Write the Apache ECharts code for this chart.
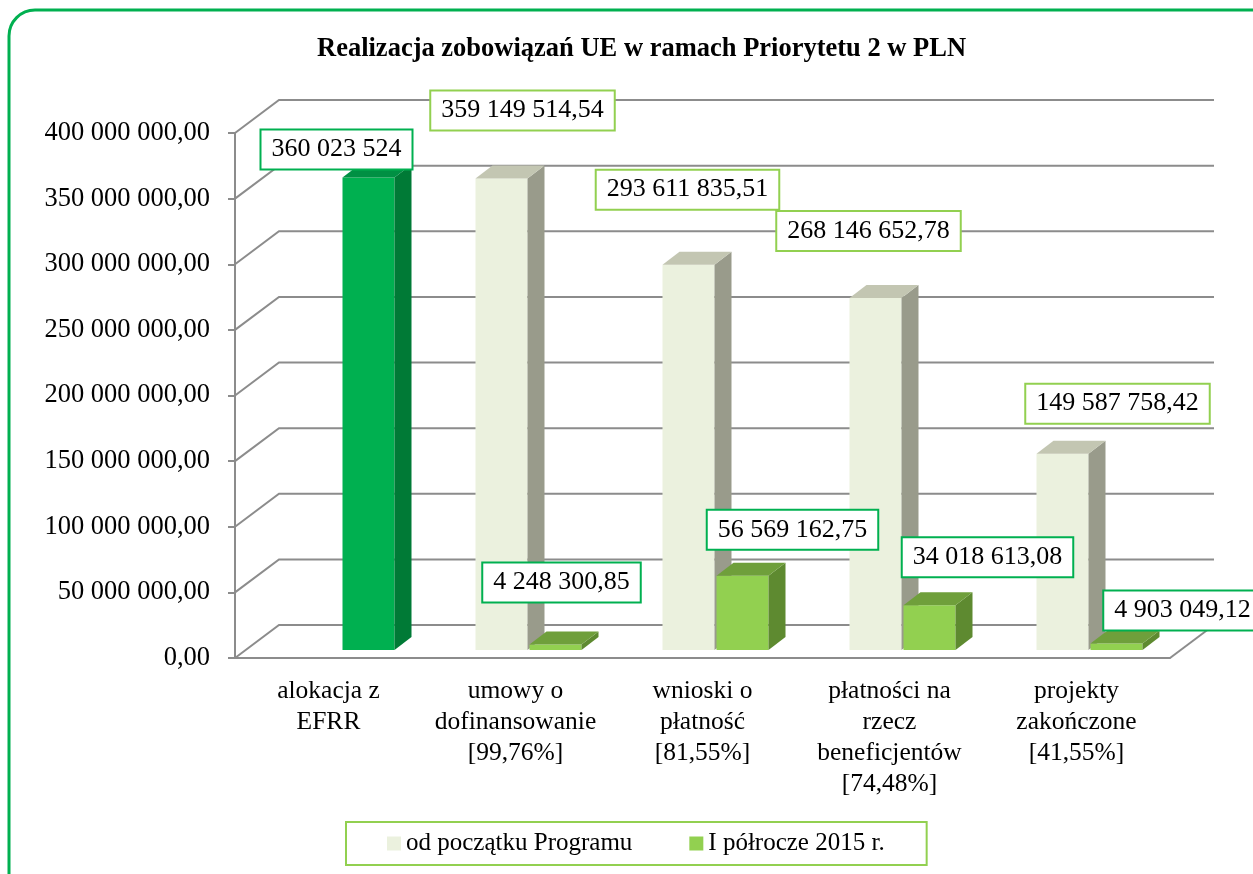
<!DOCTYPE html>
<html>
<head>
<meta charset="utf-8">
<script src="https://cdn.jsdelivr.net/npm/echarts@6/dist/echarts.min.js"></script>
<style>
  html, body { margin: 0; padding: 0; background: #fff; }
  #chart { width: 1253px; height: 874px; }
</style>
</head>
<body>
<div id="chart"></div>
<script>
const categories = [
  'alokacja z\nEFRR',
  'umowy o\ndofinansowanie\n[99,76%]',
  'wnioski o\npłatność\n[81,55%]',
  'płatności na\nrzecz\nbeneficjentów\n[74,48%]',
  'projekty\nzakończone\n[41,55%]'
]
const sinceStart = [null, 359149514.54, 293611835.51, 268146652.78, 149587758.42]
const firstHalf2015 = [360023524, 4248300.85, 56569162.75, 34018613.08, 4903049.12]
const yTicks = [0, 50000000, 100000000, 150000000, 200000000, 250000000, 300000000, 350000000, 400000000]

// label box offsets from the top of each bar (layout only)
const labelOffsets = [
  [null, [21, -68], [-1, -75], [-7, -67], [55, -50]],
  [[-32, -28], [6, -62], [50, -46], [58, -48], [66, -33]]
]

const FONT = "'Liberation Serif', 'Times New Roman', serif"
const WALL_DX = 44, WALL_DY = -33   // depth of back wall
const BAR_X = 10, BAR_Y = -8        // bar front plane inside floor
const BAR_DX = 17, BAR_DY = -13     // bar depth
const BAR_W = 52

const palettes = {
  light: { front: '#ebf1de', side: '#999b8b', top: '#c3c6b2', border: '#92d050' },
  green: { front: '#92d050', side: '#5e8a30', top: '#6f9f3b', border: '#00b050' },
  dark: { front: '#00b050', side: '#007a36', top: '#009043', border: '#00b050' }
}

function fmt(v, dec) {
  const parts = v.toFixed(dec).split('.')
  return parts[0].replace(/\B(?=(\d{3})+(?!\d))/g, ' ') + (parts[1] ? ',' + parts[1] : '')
}

function renderWall(params, api) {
  const v = api.value(1)
  const y = api.coord([0, v])[1]
  const cs = params.coordSys
  const x0 = cs.x, x1 = cs.x + cs.width
  const style = { stroke: '#8c8c8c', lineWidth: 2, fill: null }
  const children = [{
    type: 'polyline',
    shape: { points: [[x0, y], [x0 + WALL_DX, y + WALL_DY], [x1 + WALL_DX, y + WALL_DY]] },
    style: style
  }]
  if (v === 0) {
    children.push({ type: 'line', shape: { x1: x1, y1: y, x2: x1 + WALL_DX, y2: y + WALL_DY }, style: style })
  }
  return { type: 'group', children: children }
}

function renderBar(params, api) {
  const cat = api.value(0), v = api.value(1)
  if (isNaN(v)) return
  const si = params.seriesIndex - 1
  const pal = si === 0 ? palettes.light : (cat === 0 ? palettes.dark : palettes.green)
  const base = api.coord([cat, 0])
  const top = api.coord([cat, v])
  const x0 = base[0] + BAR_X + (si === 0 ? -50 : 4)
  const x1 = x0 + BAR_W
  const yb = base[1] + BAR_Y, yt = top[1] + BAR_Y
  const off = labelOffsets[si][cat]
  return {
    type: 'group',
    children: [
      { type: 'rect', shape: { x: x0, y: yt, width: BAR_W, height: yb - yt }, style: { fill: pal.front } },
      { type: 'polygon', shape: { points: [[x1, yb], [x1 + BAR_DX, yb + BAR_DY], [x1 + BAR_DX, yt + BAR_DY], [x1, yt]] }, style: { fill: pal.side } },
      { type: 'polygon', shape: { points: [[x0, yt], [x1, yt], [x1 + BAR_DX, yt + BAR_DY], [x0 + BAR_DX, yt + BAR_DY]] }, style: { fill: pal.top } },
      {
        type: 'text', z2: 100,
        style: {
          text: Number.isInteger(v) ? fmt(v, 0) : fmt(v, 2),
          x: (x0 + x1) / 2 + off[0], y: yt + off[1],
          align: 'center', verticalAlign: 'middle',
          font: '26px ' + FONT, fill: '#000',
          backgroundColor: '#fff', borderColor: pal.border, borderWidth: 2,
          padding: [6, 10]
        }
      }
    ]
  }
}

const chart = echarts.init(document.getElementById('chart'))
chart.setOption({
  backgroundColor: '#fff',
  animation: false,
  graphic: [{
    type: 'rect', silent: true,
    shape: { x: 9, y: 10, width: 1300, height: 900, r: 26 },
    style: { fill: null, stroke: '#00b050', lineWidth: 3 }
  }],
  title: {
    text: 'Realizacja zobowiązań UE w ramach Priorytetu 2 w PLN',
    left: 312, top: 31,
    textStyle: { fontFamily: FONT, fontSize: 26.5, fontWeight: 'bold', color: '#000' }
  },
  legend: {
    data: ['od początku Programu', 'I półrocze 2015 r.'],
    left: 346, top: 822,
    padding: [9, 42, 9, 41],
    itemGap: 57, itemWidth: 14, itemHeight: 14,
    icon: 'rect',
    borderColor: '#92d050', borderWidth: 2,
    textStyle: { fontFamily: FONT, fontSize: 25, color: '#000' }
  },
  grid: { left: 235, right: 83, top: 133, bottom: 216 },
  xAxis: {
    type: 'category',
    data: categories,
    axisLine: { lineStyle: { color: '#8c8c8c', width: 2 } },
    axisTick: { length: 9, lineStyle: { color: '#8c8c8c', width: 2 } },
    axisLabel: { fontFamily: FONT, fontSize: 25.5, lineHeight: 31, color: '#000', margin: 18, interval: 0 }
  },
  yAxis: {
    type: 'value',
    min: 0, max: 400000000, interval: 50000000,
    axisLine: { show: true, lineStyle: { color: '#8c8c8c', width: 2 } },
    axisTick: { show: true, length: 7, lineStyle: { color: '#8c8c8c', width: 2 } },
    splitLine: { show: false },
    axisLabel: { fontFamily: FONT, fontSize: 26.5, color: '#000', margin: 25, formatter: v => fmt(v, 2) }
  },
  series: [
    {
      type: 'custom', name: 'wall', silent: true,
      renderItem: renderWall,
      data: yTicks.map(v => [0, v])
    },
    {
      type: 'custom', name: 'od początku Programu',
      itemStyle: { color: palettes.light.front },
      renderItem: renderBar,
      data: sinceStart.map((v, i) => [i, v == null ? '-' : v])
    },
    {
      type: 'custom', name: 'I półrocze 2015 r.',
      itemStyle: { color: palettes.green.front },
      renderItem: renderBar,
      data: firstHalf2015.map((v, i) => [i, v])
    }
  ]
})
</script>
</body>
</html>
